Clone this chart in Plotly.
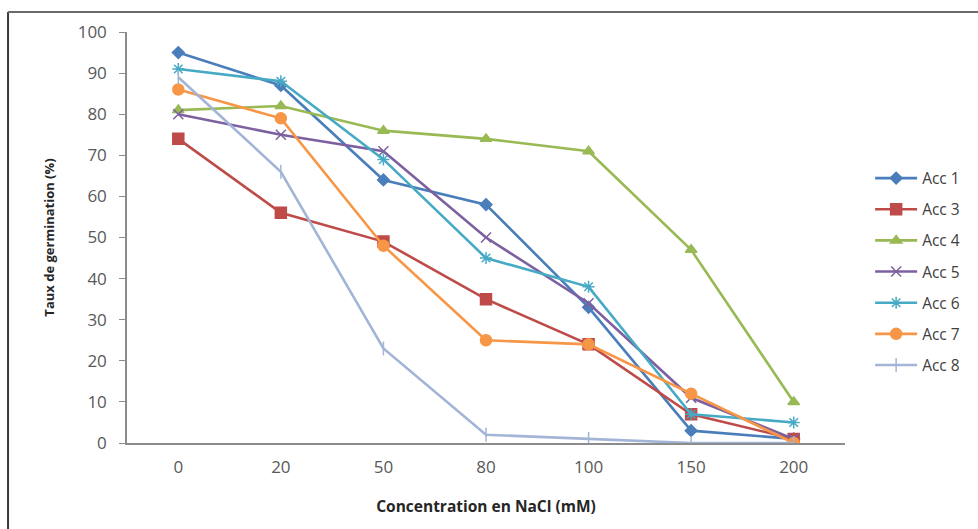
import plotly.graph_objects as go

categories = ["0", "20", "50", "80", "100", "150", "200"]
series_names = ["Acc 1", "Acc 3", "Acc 4", "Acc 5", "Acc 6", "Acc 7", "Acc 8"]
acc1 = [95, 87, 64, 58, 33, 3, 1]
acc3 = [74, 56, 49, 35, 24, 7, 1]
acc4 = [81, 82, 76, 74, 71, 47, 10]
acc5 = [80, 75, 71, 50, 34, 11, 1]
acc6 = [91, 88, 69, 45, 38, 7, 5]
acc7 = [86, 79, 48, 25, 24, 12, 0]
acc8 = [89, 66, 23, 2, 1, 0, 0]
y_ticks = [0, 10, 20, 30, 40, 50, 60, 70, 80, 90, 100]

values = [acc1, acc3, acc4, acc5, acc6, acc7, acc8]
colors = ["#4A7EBB", "#BE4B48", "#98B954", "#7D60A0", "#46AAC5", "#F79646", "#A2B5D6"]
symbols = ["diamond", "square", "triangle-up", "x-thin-open", "asterisk-open", "circle", "line-ns-open"]
sizes = [9, 11, 10, 10, 10, 11, 10]

fig = go.Figure()
for name, vals, c, s, sz in zip(series_names, values, colors, symbols, sizes):
    fig.add_trace(go.Scatter(
        x=categories, y=vals, name=name, mode="lines+markers",
        line=dict(color=c, width=2.6),
        marker=dict(symbol=s, size=sz, color=c, line=dict(color=c, width=1.5)),
        legendgroup=name,
    ))

font_family = "Open Sans, Liberation Sans, sans-serif"
fig.update_layout(
    width=978, height=529,
    margin=dict(l=127, r=133, t=32, b=86),
    paper_bgcolor="white", plot_bgcolor="white",
    font=dict(family=font_family, color="#595959"),
    showlegend=True,
    legend=dict(x=1.035, xanchor="left", y=0.416, yanchor="middle",
                font=dict(size=15.5, color="#404040"), tracegroupgap=8,
                itemwidth=42,
                bgcolor="rgba(0,0,0,0)"),
    xaxis=dict(type="category", range=[-0.5, 6.5], showgrid=False,
               showline=True, linecolor="#8C8C8C", linewidth=1.5,
               ticks="", tickfont=dict(size=17, color="#595959"),
               ticklabelstandoff=8,
               title=dict(text="<b>Concentration en NaCl (mM)</b>",
                          font=dict(size=15.5, color="#262626"), standoff=24)),
    yaxis=dict(range=[0, 100], tickvals=y_ticks, showgrid=False,
               showline=True, linecolor="#8C8C8C", linewidth=1.5,
               ticks="outside", ticklen=6, tickcolor="#8C8C8C",
               tickfont=dict(size=17, color="#595959"),
               ticklabelstandoff=9,
               zeroline=False,
               title=dict(text="<b>Taux de germination (%)</b>",
                          font=dict(size=13, color="#262626"), standoff=20)),
    shapes=[
        dict(type="line", xref="paper", yref="paper", x0=-0.1657, x1=-0.1657,
             y0=-0.25, y1=1.0487, line=dict(color="#3A3A3A", width=2)),
        dict(type="line", xref="paper", yref="paper", x0=-0.1657, x1=1.2,
             y0=1.0487, y1=1.0487, line=dict(color="#6A6A6A", width=2)),
    ],
)

fig.write_html("out.html")
